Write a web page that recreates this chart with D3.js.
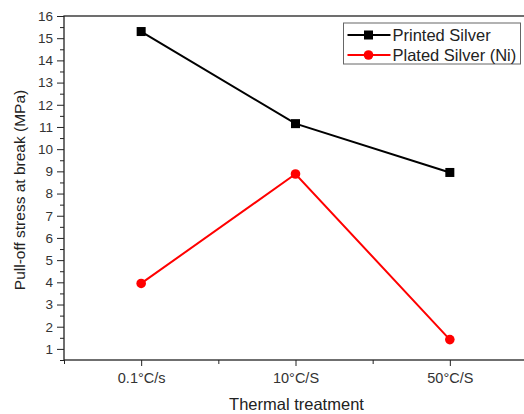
<!DOCTYPE html>
<html>
<head>
<meta charset="utf-8">
<script src="https://cdn.jsdelivr.net/npm/d3@7"></script>
<style>
  body { margin: 0; background: #fff; }
  svg { font-family: "Liberation Sans", Arial, sans-serif; }
  .axis path, .axis line { stroke: #222; }
  .axis text { fill: #333; }
</style>
</head>
<body>
<svg id="chart" width="524" height="414"></svg>
<script>
const categories = ["0.1°C/s", "10°C/S", "50°C/S"];
const printedSilver = [15.3, 11.15, 8.95];
const platedSilver = [3.95, 8.88, 1.42];
const yTicks = [1, 2, 3, 4, 5, 6, 7, 8, 9, 10, 11, 12, 13, 14, 15, 16];

const svg = d3.select("#chart");
const mLeft = 64, mRight = 527, mTop = 16, mBottom = 360;

const xScale = d3.scaleLinear().domain([0.5, 3.5]).range([mLeft, mRight]);
const yScale = d3.scaleLinear().domain([0.5, 16]).range([mBottom, mTop]);

// frame
svg.append("rect")
  .attr("x", mLeft).attr("y", mTop)
  .attr("width", mRight - mLeft).attr("height", mBottom - mTop)
  .attr("fill", "none").attr("stroke", "#222").attr("stroke-width", 1.3);

// minor ticks
const yMinor = d3.range(0.5, 16.01, 0.5).filter(v => !yTicks.includes(v));
svg.append("g").attr("class", "axis")
  .attr("transform", `translate(${mLeft},0)`)
  .call(d3.axisLeft(yScale).tickValues(yMinor).tickSize(4).tickFormat(""))
  .call(g => g.select(".domain").remove());
svg.append("g").attr("class", "axis")
  .attr("transform", `translate(0,${mBottom})`)
  .call(d3.axisBottom(xScale).tickValues([0.5, 1.5, 2.5]).tickSize(4).tickFormat(""))
  .call(g => g.select(".domain").remove());

// major axes
svg.append("g").attr("class", "axis")
  .attr("transform", `translate(${mLeft},0)`)
  .call(d3.axisLeft(yScale).tickValues(yTicks).tickSize(7).tickPadding(4).tickFormat(d3.format("d")))
  .call(g => g.select(".domain").remove())
  .call(g => g.selectAll("text").attr("font-size", 13.5));
svg.append("g").attr("class", "axis")
  .attr("transform", `translate(0,${mBottom})`)
  .call(d3.axisBottom(xScale).tickValues([1, 2, 3]).tickSize(6).tickPadding(7).tickFormat((d, i) => categories[i]))
  .call(g => g.select(".domain").remove())
  .call(g => g.selectAll("text").attr("font-size", 14.5));

// series
const series = [
  { name: "Printed Silver", values: printedSilver, color: "#000000", shape: "square" },
  { name: "Plated Silver (Ni)", values: platedSilver, color: "#ff0000", shape: "circle" }
];

const line = d3.line().x((d, i) => xScale(i + 1)).y(d => yScale(d));

function marker(g, s, x, y) {
  if (s.shape === "square") {
    g.append("rect").attr("x", x - 4.5).attr("y", y - 4.5).attr("width", 9).attr("height", 9).attr("fill", s.color);
  } else {
    g.append("circle").attr("cx", x).attr("cy", y).attr("r", 4.8).attr("fill", s.color);
  }
}

series.forEach(s => {
  svg.append("path").datum(s.values)
    .attr("d", line).attr("fill", "none")
    .attr("stroke", s.color).attr("stroke-width", 2);
  const g = svg.append("g");
  s.values.forEach((v, i) => marker(g, s, xScale(i + 1), yScale(v)));
});

// legend
const lg = svg.append("g").attr("transform", "translate(343.5,23)");
lg.append("rect").attr("width", 177).attr("height", 41)
  .attr("fill", "#fff").attr("stroke", "#666").attr("stroke-width", 1);
series.forEach((s, i) => {
  const y = 12 + i * 20;
  lg.append("line").attr("x1", 4).attr("x2", 47).attr("y1", y).attr("y2", y)
    .attr("stroke", s.color).attr("stroke-width", 2);
  marker(lg, s, 25, y);
  lg.append("text").attr("x", 49).attr("y", y + 5.5)
    .attr("font-size", 16.5).attr("fill", "#222").text(s.name);
});

// axis titles
svg.append("text")
  .attr("x", 296.5).attr("y", 410)
  .attr("text-anchor", "middle").attr("font-size", 16.5).attr("fill", "#222")
  .text("Thermal treatment");

svg.append("text")
  .attr("transform", `translate(24.5,190) rotate(-90)`)
  .attr("text-anchor", "middle").attr("font-size", 15.5).attr("fill", "#222")
  .text("Pull-off stress at break (MPa)");
</script>
</body>
</html>
